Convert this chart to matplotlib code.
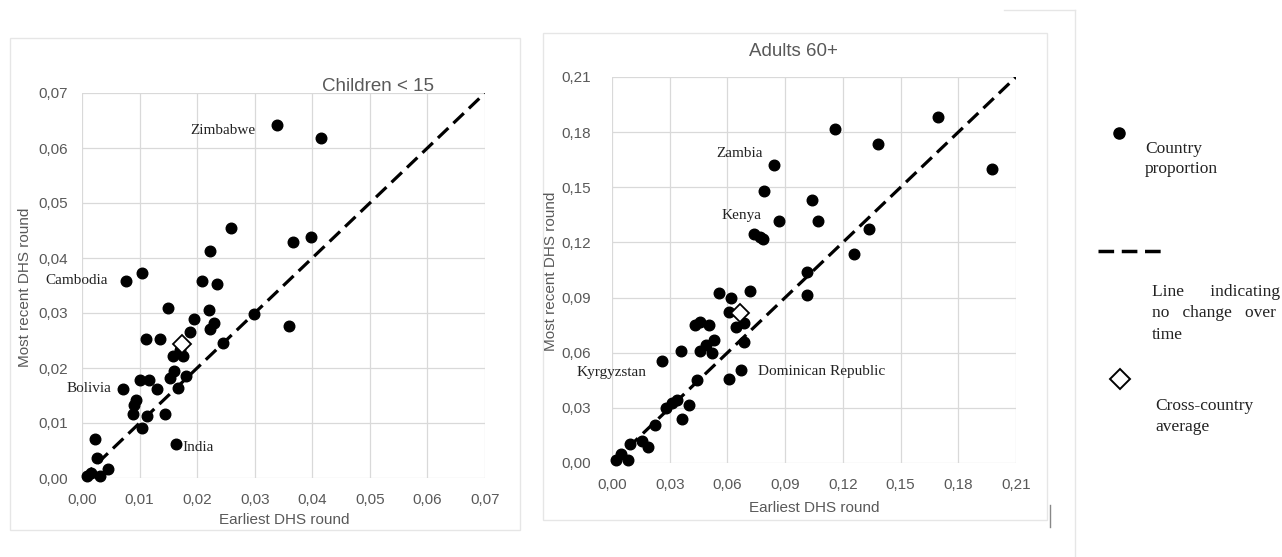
import matplotlib
matplotlib.use('Agg')
import matplotlib.pyplot as plt
from matplotlib.lines import Line2D
from matplotlib.patches import Rectangle

# Children < 15 : earliest vs most recent DHS round
child_x = [0.0338, 0.0416, 0.0259, 0.0366, 0.0398, 0.0222, 0.0077, 0.0105, 0.0208,
           0.0234, 0.0150, 0.0220, 0.0299, 0.0359, 0.0195, 0.0230, 0.0222, 0.0188,
           0.0112, 0.0136, 0.0245, 0.0171, 0.0158, 0.0175, 0.0159, 0.0152, 0.0181,
           0.0100, 0.0117, 0.0166, 0.0131, 0.0071, 0.0094, 0.0091, 0.0088, 0.0113,
           0.0144, 0.0104, 0.0163, 0.0022, 0.0026, 0.0045, 0.0031, 0.0008, 0.0016]
child_y = [0.0641, 0.0618, 0.0455, 0.0430, 0.0439, 0.0413, 0.0359, 0.0372, 0.0358,
           0.0353, 0.0309, 0.0306, 0.0299, 0.0277, 0.0289, 0.0281, 0.0271, 0.0265,
           0.0253, 0.0253, 0.0245, 0.0233, 0.0221, 0.0222, 0.0194, 0.0182, 0.0186,
           0.0178, 0.0178, 0.0164, 0.0161, 0.0162, 0.0142, 0.0133, 0.0117, 0.0112,
           0.0117, 0.0091, 0.0062, 0.0071, 0.0036, 0.0016, 0.0003, 0.0003, 0.0010]
child_avg = [0.0174, 0.0244]
child_ticks = [0.00, 0.01, 0.02, 0.03, 0.04, 0.05, 0.06, 0.07]
child_labels = ['0,00', '0,01', '0,02', '0,03', '0,04', '0,05', '0,06', '0,07']
child_names = ['Zimbabwe', 'Cambodia', 'Bolivia', 'India']
child_name_pos = [(0.0245, 0.0632), (-0.0010, 0.0359), (0.0012, 0.0162), (0.0175, 0.0056)]

# Adults 60+
adult_x = [0.1696, 0.1160, 0.1385, 0.1973, 0.0840, 0.0788, 0.1042, 0.0866, 0.1073,
           0.1338, 0.0739, 0.0784, 0.0770, 0.1260, 0.1013, 0.1013, 0.0557, 0.0620,
           0.0715, 0.0606, 0.0646, 0.0687, 0.0433, 0.0459, 0.0502, 0.0532, 0.0687,
           0.0455, 0.0490, 0.0519, 0.0358, 0.0260, 0.0672, 0.0606, 0.0441, 0.0398,
           0.0338, 0.0312, 0.0282, 0.0363, 0.0225, 0.0156, 0.0187, 0.0092, 0.0048,
           0.0022, 0.0081]
adult_y = [0.1882, 0.1817, 0.1737, 0.1599, 0.1619, 0.1481, 0.1432, 0.1317, 0.1317,
           0.1274, 0.1246, 0.1219, 0.1228, 0.1136, 0.1041, 0.0914, 0.0926, 0.0899,
           0.0937, 0.0823, 0.0741, 0.0759, 0.0750, 0.0768, 0.0750, 0.0669, 0.0660,
           0.0610, 0.0641, 0.0596, 0.0610, 0.0556, 0.0508, 0.0459, 0.0454, 0.0314,
           0.0341, 0.0327, 0.0301, 0.0241, 0.0205, 0.0120, 0.0087, 0.0102, 0.0051,
           0.0018, 0.0015]
adult_avg = [0.0667, 0.0817]
adult_ticks = [0.00, 0.03, 0.06, 0.09, 0.12, 0.15, 0.18, 0.21]
adult_labels = ['0,00', '0,03', '0,06', '0,09', '0,12', '0,15', '0,18', '0,21']
adult_names = ['Zambia', 'Kenya', 'Kyrgyzstan', 'Dominican Republic']
adult_name_pos = [(0.0661, 0.1686), (0.0675, 0.1345), (-0.0005, 0.0492), (0.1091, 0.0496)]

W, H = 1282, 557
grey = '#595959'
sans = 'Liberation Sans'
serif = 'Liberation Serif'

fig = plt.figure(figsize=(W / 100, H / 100), dpi=100)


def fx(x):
    return x / W


def fy(y):
    return 1 - y / H


def panel(rect, ticks, labels, xs, ys, avg, names, name_pos, ypad):
    ax = fig.add_axes(rect)
    lim = ticks[-1]
    ax.set_xlim(0, lim)
    ax.set_ylim(0, lim)
    ax.set_xticks(ticks)
    ax.set_yticks(ticks)
    ax.set_xticklabels(labels)
    ax.set_yticklabels(labels)
    ax.grid(True, color='#d9d9d9', lw=0.9)
    ax.set_axisbelow(True)
    for s in ax.spines.values():
        s.set_visible(False)
    ax.tick_params(axis='both', length=0, labelsize=11, labelcolor=grey)
    ax.tick_params(axis='x', pad=11)
    ax.tick_params(axis='y', pad=ypad)
    for t in ax.get_xticklabels() + ax.get_yticklabels():
        t.set_fontfamily(sans)
    ax.plot([0, lim], [0, lim], color='black', lw=2.3, ls=(0, (4.5, 2.2)), zorder=2)
    ax.scatter(xs, ys, s=58, color='black', zorder=3, clip_on=False)
    ax.plot(avg[0], avg[1], marker='D', markersize=9, markerfacecolor='white',
            markeredgecolor='black', markeredgewidth=1.3, zorder=4)
    for n, (x, y) in zip(names, name_pos):
        ha = 'left' if n == 'India' else 'center'
        ax.text(x, y, n, fontsize=11, family=serif, color='#222222', ha=ha,
                va='center', clip_on=False)
    return ax


axL = panel([fx(82), fy(478), 403 / W, 385 / H], child_ticks, child_labels,
            child_x, child_y, child_avg, child_names, child_name_pos, 10)
axR = panel([fx(612), fy(463), 404 / W, 386 / H], adult_ticks, adult_labels,
            adult_x, adult_y, adult_avg, adult_names, adult_name_pos, 15)

axL.text(0.734, 1.016, 'Children < 15', transform=axL.transAxes, fontsize=13.5,
         family=sans, color=grey, ha='center', va='center')
axR.text(0.45, 1.065, 'Adults 60+', transform=axR.transAxes, fontsize=13.5,
         family=sans, color=grey, ha='center', va='center')

for x, y, s, rot in [(284, 520, 'Earliest DHS round', 0), (25, 287, 'Most recent DHS round', 90),
                     (814, 508, 'Earliest DHS round', 0), (551, 271, 'Most recent DHS round', 90)]:
    fig.text(fx(x), fy(y), s, fontsize=11, family=sans, color=grey, rotation=rot,
             ha='center', va='center')

# light frames around the panels
frame = '#e6e6e6'
fig.add_artist(Rectangle((fx(10), fy(530)), (520 - 10) / W, (530 - 38) / H, fill=False,
                         edgecolor=frame, lw=1, transform=fig.transFigure))
fig.add_artist(Rectangle((fx(543), fy(520)), (1047 - 543) / W, (520 - 33) / H, fill=False,
                         edgecolor=frame, lw=1, transform=fig.transFigure))
fig.add_artist(Line2D([fx(1075), fx(1075)], [fy(10), fy(557)], color=frame, lw=1,
                      transform=fig.transFigure))
fig.add_artist(Line2D([fx(1004), fx(1075)], [fy(10), fy(10)], color=frame, lw=1,
                      transform=fig.transFigure))
fig.add_artist(Line2D([fx(1050), fx(1050)], [fy(505), fy(527)], color='#888888', lw=1,
                      transform=fig.transFigure))

# legend on the right
fig.add_artist(Line2D([fx(1119)], [fy(133)], marker='o', markersize=8, color='black',
                      transform=fig.transFigure))
fig.add_artist(Line2D([fx(1098), fx(1167)], [fy(251), fy(251)], color='black', lw=2.5,
                      ls=(0, (4.5, 2.2)), transform=fig.transFigure))
fig.add_artist(Line2D([fx(1120)], [fy(379)], marker='D', markersize=10,
                      markerfacecolor='white', markeredgecolor='black', markeredgewidth=1.4,
                      transform=fig.transFigure))
legend_lines = [(1145, 149, 'Country'), (1145, 169, 'proportion'),
                (1152, 292, 'Line      indicating'), (1152, 313, 'no   change   over'),
                (1152, 335, 'time'), (1155, 406, 'Cross-country'), (1155, 427, 'average')]
for x, y, s in legend_lines:
    fig.text(fx(x), fy(y), s, fontsize=12.5, family=serif, color='#222222',
             ha='left', va='center')

fig.savefig('out.png', dpi=100, facecolor='white')
